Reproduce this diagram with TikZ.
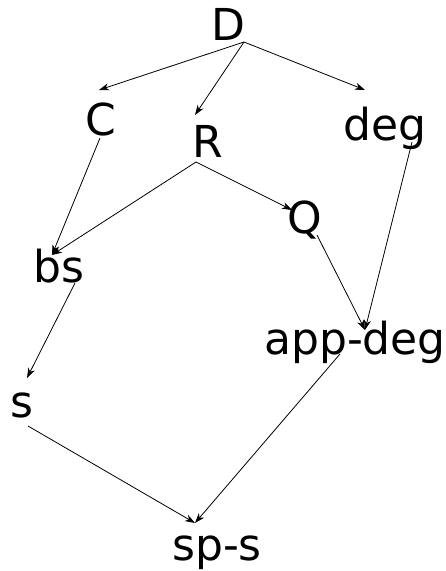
\documentclass[tikz,border=0pt]{standalone}
\usepackage{fontspec}
\setmainfont{DejaVu Sans}
\usetikzlibrary{arrows.meta}
\begin{document}
\begin{tikzpicture}[x=1pt,y=-1pt,
  lbl/.style={anchor=base,inner sep=0pt,font=\fontsize{44}{50}\selectfont},
  edge/.style={line width=0.8pt,-{Stealth[length=10pt,width=7pt,inset=3pt]}}]
\useasboundingbox (0,0) rectangle (446,571);
\node[lbl] (D) at (228,40) {D};
\node[lbl] (C) at (101,135) {C};
\node[lbl] (R) at (208,157) {R};
\node[lbl] (deg) at (385,140) {deg};
\node[lbl] (Q) at (305,233) {Q};
\node[lbl] (bs) at (59,282) {bs};
\node[lbl] (app) at (355,354) {app-deg};
\node[lbl] (s) at (22,417) {s};
\node[lbl] (sps) at (217,560) {sp-s};
% ports
\coordinate (Do) at ([shift={(16,2)}]D.base);
\coordinate (Ci) at ([shift={(-2,-45)}]C.base);
\coordinate (Co) at ([shift={(-1,3)}]C.base);
\coordinate (Ri) at ([shift={(-13,-42)}]R.base);
\coordinate (Ro) at ([shift={(-12,5)}]R.base);
\coordinate (degi) at ([shift={(-20,-50)}]deg.base);
\coordinate (dego) at ([shift={(27,2)}]deg.base);
\coordinate (Qi) at ([shift={(-13,-23)}]Q.base);
\coordinate (Qo) at ([shift={(12,2)}]Q.base);
\coordinate (bsi) at ([shift={(-7,-27)}]bs.base);
\coordinate (bso) at ([shift={(16,1)}]bs.base);
\coordinate (appi) at ([shift={(10,-24)}]app.base);
\coordinate (appo) at ([shift={(-15,0)}]app.base);
\coordinate (si) at ([shift={(5,-39)}]s.base);
\coordinate (so) at ([shift={(6,9)}]s.base);
\coordinate (spsi) at ([shift={(-22,-37)}]sps.base);
\draw[edge] (Do) -- (Ci);
\draw[edge] (Do) -- (Ri);
\draw[edge] (Do) -- (degi);
\draw[edge] (Co) -- (bsi);
\draw[edge] (Ro) -- (bsi);
\draw[edge] (Ro) -- (Qi);
\draw[edge] (dego) -- (appi);
\draw[edge] (Qo) -- (appi);
\draw[edge] (bso) -- (si);
\draw[edge] (so) -- (spsi);
\draw[edge] (appo) -- (spsi);
\end{tikzpicture}
\end{document}
